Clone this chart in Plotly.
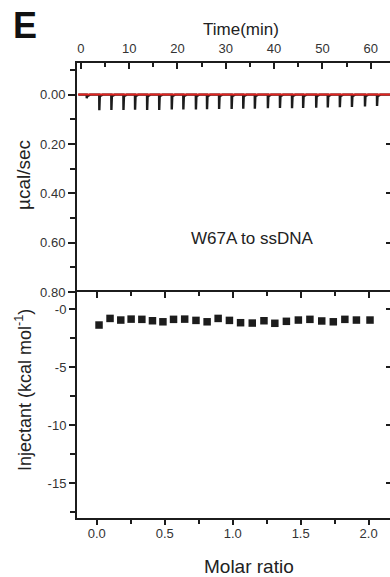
import plotly.graph_objects as go

# ---- data ----
inj_time = [1.2, 3.8, 6.3, 8.8, 11.2, 13.7, 16.2, 18.8, 21.2, 23.8, 26.1, 28.6, 31.2,
            33.6, 36.0, 38.7, 41.2, 43.7, 46.0, 48.7, 51.1, 53.6, 56.1, 58.8, 61.3]
inj_peak = [0.015, 0.063, 0.062, 0.062, 0.061, 0.062, 0.062, 0.060, 0.060, 0.060, 0.059,
            0.058, 0.058, 0.057, 0.057, 0.055, 0.054, 0.055, 0.054, 0.053, 0.052, 0.051,
            0.050, 0.048, 0.046]

molar_ratio = [0.017, 0.098, 0.177, 0.253, 0.332, 0.410, 0.487, 0.565, 0.647, 0.730,
               0.812, 0.893, 0.976, 1.058, 1.144, 1.230, 1.310, 1.395, 1.483, 1.568,
               1.655, 1.740, 1.825, 1.910, 2.010]
heat = [-1.35, -0.78, -0.92, -0.84, -0.86, -0.98, -1.07, -0.86, -0.84, -0.95, -1.07,
        -0.78, -0.95, -1.15, -1.18, -0.98, -1.2, -1.03, -0.92, -0.86, -1.0, -1.07,
        -0.86, -0.92, -0.92]

time_range = [-0.8, 64.0]
power_range = [0.80, -0.128]
ratio_range = [-0.145, 2.157]
heat_range = [-18, 1.5]
heat_ticks = [0, -5, -10, -15]
heat_ticktext = ["-0", "-5", "-10", "-15"]

# ---- build thermogram trace from injection times/peaks ----
tx, ty = [time_range[0] + 0.3], [0.0]
for t, p in zip(inj_time, inj_peak):
    tx += [t, t + 0.02, t + 0.12, t + 0.7]
    ty += [0.0, p, 0.006, 0.0]
tx.append(time_range[1])
ty.append(0.0)

INK = "#1c1c1c"
FONT = "Liberation Sans, Arial, sans-serif"

fig = go.Figure()
fig.add_trace(go.Scatter(x=tx, y=ty, mode="lines", line=dict(color=INK, width=2.4),
                         xaxis="x", yaxis="y", hoverinfo="skip"))
fig.add_trace(go.Scatter(x=[time_range[0] + 0.2, time_range[1]], y=[0.0, 0.0], mode="lines",
                         line=dict(color="#e3231f", width=2), xaxis="x", yaxis="y"))
fig.add_trace(go.Scatter(x=molar_ratio, y=heat, mode="markers",
                         marker=dict(symbol="square", size=7.5, color=INK),
                         xaxis="x2", yaxis="y2"))
# empty traces so the overlay (tick-only) axes are drawn
fig.add_trace(go.Scatter(x=[None], y=[None], xaxis="x3", yaxis="y2", showlegend=False))
fig.add_trace(go.Scatter(x=[None], y=[None], xaxis="x", yaxis="y3", showlegend=False))
fig.add_trace(go.Scatter(x=[None], y=[None], xaxis="x2", yaxis="y4", showlegend=False))

split = (518 - 292) / 455.0

axis_common = dict(showgrid=False, zeroline=False, linecolor=INK, linewidth=2,
                   tickcolor=INK, tickwidth=2, tickfont=dict(family=FONT, size=13, color="#333"))

fig.update_layout(
    width=390, height=577,
    margin=dict(l=77, r=0, t=63, b=59),
    paper_bgcolor="white", plot_bgcolor="white",
    showlegend=False,
    font=dict(family=FONT, color="#222"),
    xaxis=dict(axis_common, domain=[0, 1], range=time_range, anchor="y", side="top",
               showline=True, ticks="inside", ticklen=6, tickmode="linear", tick0=0, dtick=10,
               minor=dict(ticks="inside", ticklen=4, tickmode="linear", tick0=5, dtick=10,
                          tickcolor=INK, tickwidth=2),
               ticklabelstandoff=3),
    yaxis=dict(axis_common, domain=[split, 1], range=power_range, anchor="x",
               showline=True, ticks="outside", ticklen=7, tickmode="linear", tick0=0, dtick=0.2,
               tickformat=".2f",
               minor=dict(ticks="outside", ticklen=5, tickmode="linear", tick0=0, dtick=0.1,
                          tickcolor=INK, tickwidth=2)),
    xaxis2=dict(axis_common, domain=[0, 1], range=ratio_range, anchor="y2", side="bottom",
                showline=True, ticks="outside", ticklen=5, tickmode="linear", tick0=0, dtick=0.5,
                tickformat=".1f", ticklabelstandoff=-3,
                minor=dict(ticks="outside", ticklen=4, tickmode="linear", tick0=0, dtick=0.25,
                           tickcolor=INK, tickwidth=2)),
    yaxis2=dict(axis_common, domain=[0, split], range=heat_range, anchor="x2",
                showline=True, ticks="outside", ticklen=6, tickmode="array",
                tickvals=heat_ticks, ticktext=heat_ticktext,
                minor=dict(ticks="outside", ticklen=5, tickvals=[-2.5, -7.5, -12.5, -17.5],
                           tickcolor=INK, tickwidth=2)),
    xaxis3=dict(axis_common, range=ratio_range, overlaying="x2", anchor="y2", side="top",
                showline=True, ticks="inside", ticklen=6, tickmode="linear", tick0=0, dtick=0.5,
                showticklabels=False,
                minor=dict(ticks="inside", ticklen=4, tickmode="linear", tick0=0, dtick=0.25,
                           tickcolor=INK, tickwidth=2)),
    yaxis3=dict(axis_common, range=power_range, overlaying="y", anchor="x", side="right",
                showline=False, ticks="inside", ticklen=4, tickmode="array",
                tickvals=[0.2, 0.4, 0.6], showticklabels=False),
    yaxis4=dict(axis_common, range=heat_range, overlaying="y2", anchor="x2", side="right",
                showline=False, ticks="inside", ticklen=4, tickmode="array",
                tickvals=heat_ticks, showticklabels=False),
)

def px_x(p):
    return (p - 77) / 313.0

def px_y(p):
    return (518 - p) / 455.0

ann = [
    dict(text="<b>E</b>", x=px_x(11), y=px_y(3), xanchor="left", yanchor="top",
         font=dict(size=36, color="#111", family=FONT)),
    dict(text="Time(min)", x=px_x(241), y=px_y(29), xanchor="center", yanchor="middle",
         font=dict(size=17, color="#222", family=FONT)),
    dict(text="Molar ratio", x=px_x(249), y=px_y(566), xanchor="center", yanchor="middle",
         font=dict(size=19, color="#222", family=FONT)),
    dict(text="µcal/sec", x=px_x(23), y=px_y(175), xanchor="center", yanchor="middle",
         textangle=-90, font=dict(size=19, color="#222", family=FONT)),
    dict(text="Injectant (kcal mol<sup>-1</sup>)", x=px_x(23), y=px_y(390), xanchor="center",
         yanchor="middle", textangle=-90, font=dict(size=18, color="#222", family=FONT)),
    dict(text="W67A to ssDNA", x=px_x(252), y=px_y(239), xanchor="center", yanchor="middle",
         font=dict(size=17, color="#222", family=FONT)),
]
for a in ann:
    a.update(xref="paper", yref="paper", showarrow=False)
fig.update_layout(annotations=ann)

fig.write_html("out.html")
